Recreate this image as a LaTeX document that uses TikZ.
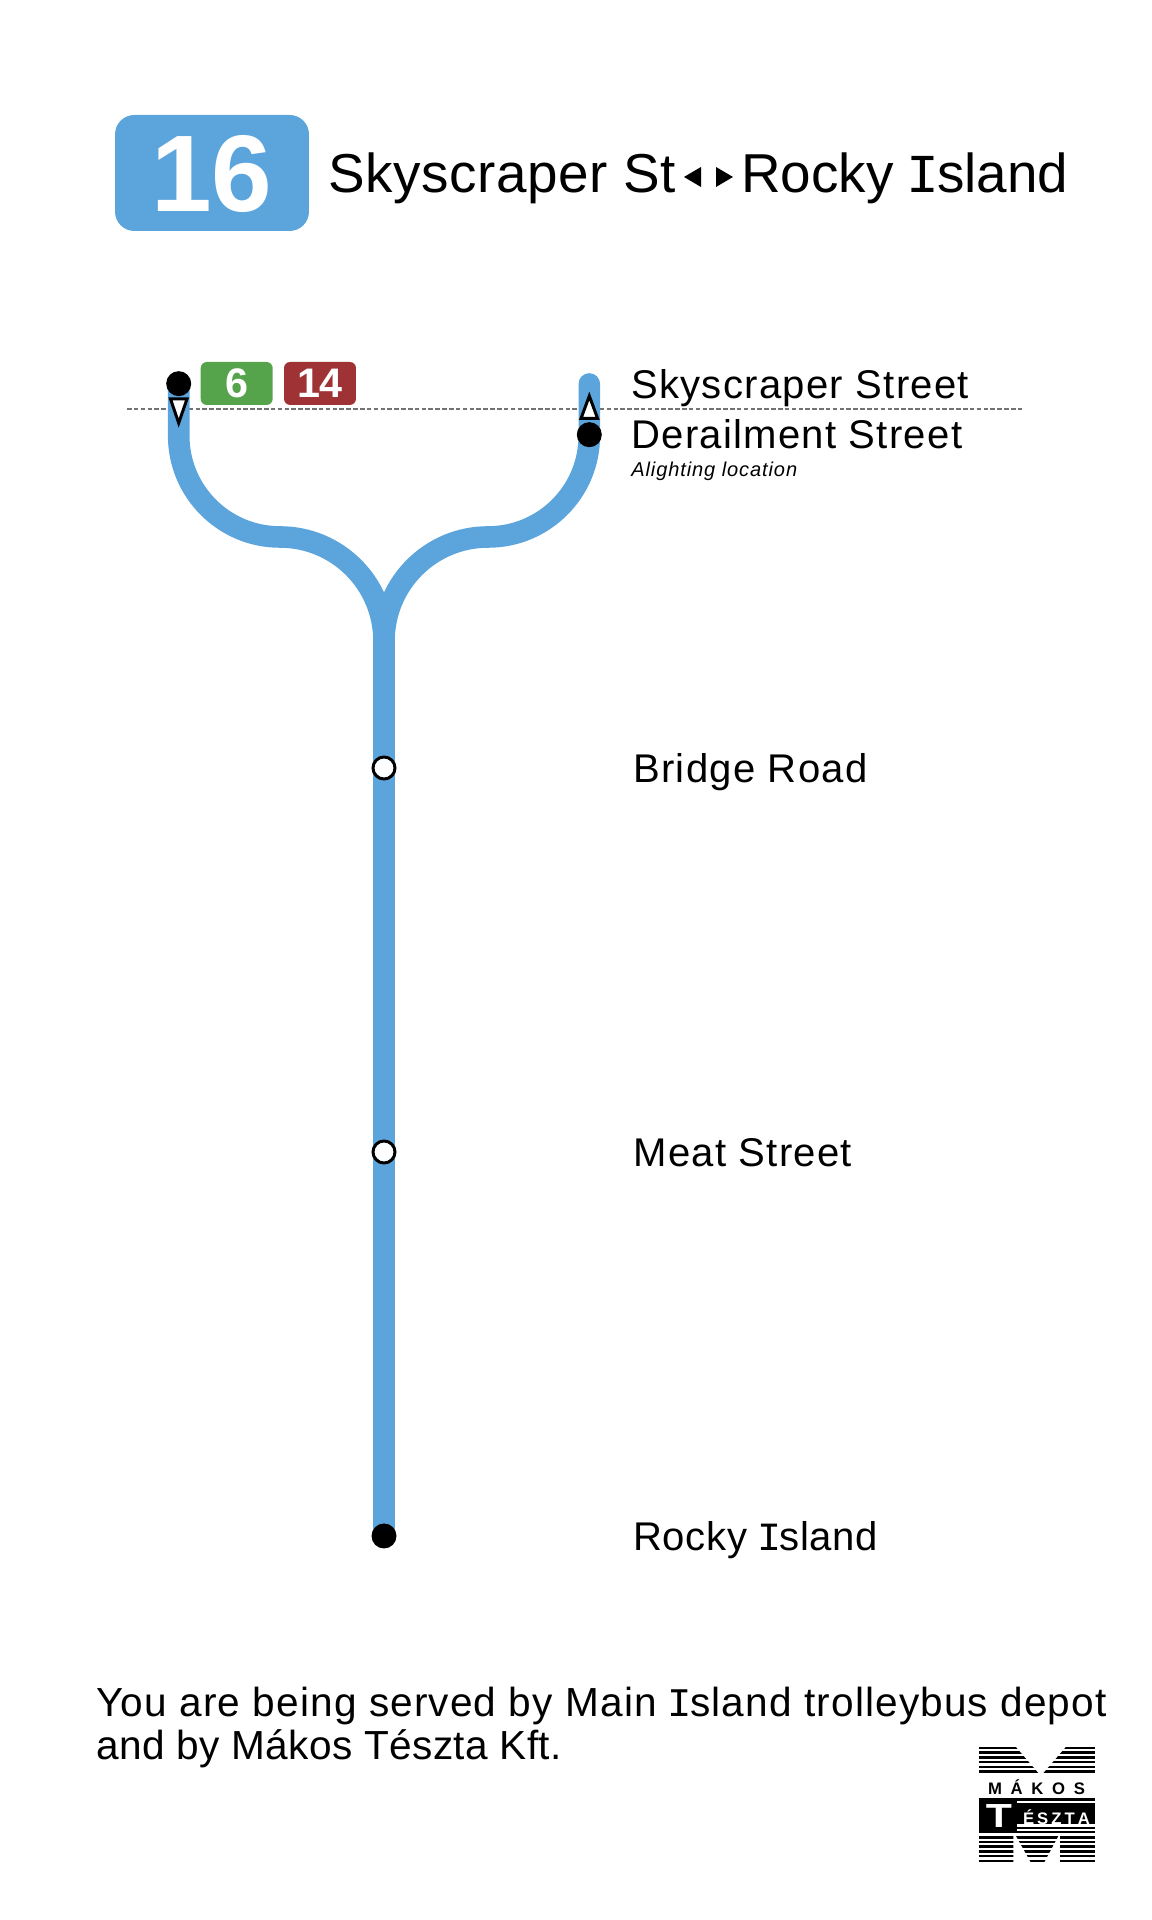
\documentclass[tikz,border=0pt]{standalone}
\usepackage{fontspec}
\setmainfont{Liberation Sans}
\newfontfamily\slabfont{Liberation Mono}
\newcommand{\slabI}{{\slabfont\kern-0.04em I\kern-0.04em}}
\definecolor{lineblue}{HTML}{5BA5DC}
\definecolor{linegreen}{HTML}{55A44B}
\definecolor{linered}{HTML}{9E3234}
\tikzset{
        stoplabel/.style={anchor=base west,inner sep=0,font=\fontsize{22.8}{26}\selectfont\addfontfeature{LetterSpace=3.2}},
        footlabel/.style={anchor=base west,inner sep=0,font=\fontsize{23.1}{26}\selectfont\addfontfeature{LetterSpace=2.8}},
        titlelabel/.style={anchor=base west,inner sep=0,font=\fontsize{31.2}{36}\selectfont},
        linebadge/.style={rounded corners=3.5pt,minimum width=1.44cm,minimum height=.86cm,inner sep=0,text=white,font=\fontsize{23.5}{26}\selectfont\bfseries},
        track/.style={lineblue,line width=12.3pt,line cap=round},
        platform/.style={fill=white,draw=black,line width=1.7pt,line join=miter},
        endstop/.style={circle,fill=black,minimum size=.5cm,inner sep=0},
        openstop/.style={circle,fill=white,draw=black,line width=1.7pt,minimum size=.44cm,inner sep=0}
}

\begin{document}
\begin{tikzpicture}[x=.02cm,y=.02cm]
        \useasboundingbox (0,0) rectangle (1152,1920);

        % header
        \node [fill=lineblue,rounded corners=11pt,minimum width=3.88cm,minimum height=2.32cm,inner sep=0] (badge) at (212,1747) {};
        \node [anchor=base,inner sep=0,text=white,font=\fontsize{62}{70}\selectfont\bfseries] (number) at (212,1708) {16};
        \node [titlelabel,font=\fontsize{31.2}{36}\selectfont\addfontfeature{LetterSpace=1}] (from) at (328,1727) {Skyscraper St};
        \node [titlelabel] (to) at (741,1727) {Rocky \slabI sland};
        \fill (701,1753) -- (701,1733) -- (684,1743) -- cycle;
        \fill (716,1753) -- (716,1733) -- (733,1743) -- cycle;

        % the line
        \coordinate (skyend) at (178.7,1536);
        \coordinate (derend) at (589.3,1536);
        \coordinate (rockyend) at (384,384);
        \draw [gray!90!black,line width=.8pt,dash pattern=on 2.6pt off 1.3pt] (127,1511) -- (1023,1511);
        \draw [track] (rockyend) -- (384,1279) arc [start angle=0,end angle=90,radius=104] arc [start angle=270,end angle=180,radius=101.3] -- (skyend);
        \draw [track] (rockyend) -- (384,1279) arc [start angle=180,end angle=90,radius=104] arc [start angle=-90,end angle=0,radius=101.3] -- (derend);
        \draw [platform] (170.5,1521) -- (187,1521) -- (178.7,1497) -- cycle;
        \draw [platform] (581,1501.5) -- (597.6,1501.5) -- (589.3,1524) -- cycle;

        % stops
        \node [endstop] (sky) at (178.7,1536.3) {};
        \node [endstop] (der) at (589.3,1485.3) {};
        \node [openstop] (bridge) at (384,1152) {};
        \node [openstop] (meat) at (384,768) {};
        \node [endstop] (rocky) at (rockyend) {};

        \node [linebadge,fill=linegreen] (six) at (236.7,1536.5) {6};
        \node [linebadge,fill=linered] (fourteen) at (320,1536.5) {14};

        \node [stoplabel] (skylabel) at (631,1521) {Skyscraper Street};
        \node [stoplabel] (derlabel) at (631,1471) {Derailment Street};
        \node [stoplabel,font=\fontsize{11.4}{13}\selectfont\itshape\addfontfeature{LetterSpace=4.5}] (alight) at (631,1443) {Alighting location};
        \node [stoplabel] (bridgelabel) at (633,1137) {Bridge Road};
        \node [stoplabel] (meatlabel) at (633,753) {Meat Street};
        \node [stoplabel,font=\fontsize{22.8}{26}\selectfont\addfontfeature{LetterSpace=1.5}] (rockylabel) at (633,369) {Rocky \slabI sland};

        % footer
        \node [footlabel] (foot1) at (96,203) {You are being served by Main \slabI sland trolleybus depot};
        \node [footlabel,font=\fontsize{23.1}{26}\selectfont\addfontfeature{LetterSpace=1}] (foot2) at (96,160) {and by Mákos Tészta Kft.};

        % logo
        \begin{scope}
                \clip (979,174) -- (1015,174) -- (1040,145) -- (979,145) -- cycle
                      (1066.7,174) -- (1095,174) -- (1095,145) -- (1041.7,145) -- cycle
                      (1017,123) rectangle (1095,87)
                      (979,84) rectangle (1013.3,56)
                      (1060,84) rectangle (1095,56)
                      (1016,84) -- (1058.3,84) -- (1043.3,56) -- (1031.7,56) -- cycle;
                \foreach \y in {172,167.3,...,56}
                        \draw [line width=1.45pt] (979,\y) -- (1095,\y);
        \end{scope}
        \fill (979,122.3) rectangle (1017,87);
        \fill (1017,116) rectangle (1094.5,97.3);
        \node [inner sep=0,xscale=1.28,text=white,font=\fontsize{19}{20}\selectfont\bfseries] (logot) at (998.8,104) {T};
        \node [inner sep=0,font=\fontsize{9.5}{10}\selectfont\bfseries] (makos) at (1036.5,133) {\makebox[1.94cm][s]{M\hfil Á\hfil K\hfil O\hfil S}};
        \node [inner sep=0,text=white,font=\fontsize{9.5}{10}\selectfont\bfseries] (teszta) at (1056.5,103) {\makebox[1.34cm][s]{É\hfil S\hfil Z\hfil T\hfil A}};
\end{tikzpicture}
\end{document}
